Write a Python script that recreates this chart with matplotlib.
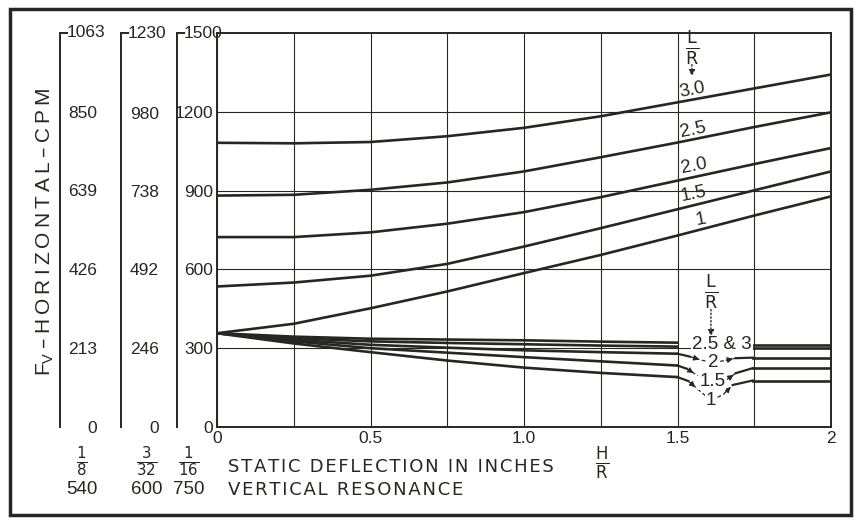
import matplotlib.pyplot as plt
from matplotlib.patches import Rectangle

plt.rcParams['font.family'] = ['Liberation Sans', 'DejaVu Sans']

# ==========================================
# 1. DATOS
# ==========================================
# Rama superior: F_V frente a H/R para cada L/R
hr = [0, 0.25, 0.5, 0.75, 1.0, 1.25, 1.5, 1.75, 2.0]
sup_30 = [1082, 1080, 1085, 1107, 1139, 1183, 1236, 1289, 1342]
sup_25 = [881, 884, 903, 931, 973, 1027, 1083, 1142, 1198]
sup_20 = [723, 723, 741, 774, 818, 875, 938, 1001, 1062]
sup_15 = [535, 550, 576, 621, 687, 757, 829, 901, 973]
sup_10 = [357, 393, 452, 516, 586, 655, 729, 805, 878]
sup_etiq = ['3.0', '2.5', '2.0', '1.5', '1']

# Rama inferior (antes y despues de la resonancia)
hr_inf = [0, 0.25, 0.5, 0.75, 1.0, 1.25, 1.5]
inf_30 = [357, 344, 336, 333, 330, 325, 321]
inf_25 = [357, 338, 326, 320, 315, 310, 306]
inf_20 = [357, 332, 313, 302, 292, 285, 279]
inf_15 = [357, 326, 300, 283, 266, 250, 234]
inf_10 = [357, 318, 285, 253, 226, 206, 190]

hr_der = [1.745, 2.0]
der_30 = [314, 314]
der_25 = [300, 300]
der_20 = [264, 264]
der_15 = [224, 224]
der_10 = [177, 177]

# Caidas de resonancia (tramos discontinuos)
caida_20_x = [1.50, 1.54, 1.58, 1.616, 1.65, 1.69, 1.745]
caida_20_y = [279, 268, 254, 246, 252, 262, 264]
caida_15_x = [1.50, 1.53, 1.56, 1.614, 1.66, 1.69, 1.745]
caida_15_y = [234, 222, 200, 172, 180, 205, 224]
caida_10_x = [1.50, 1.535, 1.565, 1.61, 1.65, 1.68, 1.745]
caida_10_y = [190, 175, 145, 100, 125, 160, 177]

# Escalas auxiliares a la izquierda
esc_top = [1063, 1230, 1500]
esc_ticks = [[0, 213, 426, 639, 850],
             [0, 246, 492, 738, 980],
             [0, 300, 600, 900, 1200]]
frac_def = ['1', '3', '1']
den_def = ['8', '32', '16']
res_vert = ['540', '600', '750']

# ==========================================
# 2. FIGURA
# ==========================================
W, H = 855, 523
L, R, T, B = 217, 831, 33, 427
tinta = '#262622'

fig = plt.figure(figsize=(W / 100, H / 100), dpi=100)
fig.patch.set_facecolor('white')

ax = fig.add_axes([L / W, 1 - B / H, (R - L) / W, (B - T) / H])
ax.set_xlim(0, 2)
ax.set_ylim(0, 1500)
ax.set_xticks([0, 0.5, 1.0, 1.5, 2])
ax.set_xticklabels(['0', '0.5', '1.0', '1.5', '2'])
ax.set_xticks([0.25, 0.75, 1.25, 1.75], minor=True)
ax.set_yticks([300, 600, 900, 1200])
ax.set_yticklabels([])
ax.tick_params(axis='both', which='both', length=0)
ax.tick_params(axis='x', labelsize=12.5, pad=3, colors=tinta)
ax.grid(True, which='both', color=tinta, lw=0.8)
for s in ax.spines.values():
    s.set_color(tinta)
    s.set_linewidth(1.4)

# curvas superiores
for ys in [sup_30, sup_25, sup_20, sup_15, sup_10]:
    ax.plot(hr, ys, color=tinta, lw=1.9, solid_capstyle='butt')

# curvas inferiores
for yi, yd in zip([inf_30, inf_25, inf_20, inf_15, inf_10],
                  [der_30, der_25, der_20, der_15, der_10]):
    ax.plot(hr_inf, yi, color=tinta, lw=1.9)
    ax.plot(hr_der, yd, color=tinta, lw=1.9)

# caidas de resonancia
for cx, cy in [(caida_20_x, caida_20_y), (caida_15_x, caida_15_y),
               (caida_10_x, caida_10_y)]:
    ax.plot(cx[:2], cy[:2], color=tinta, lw=1.6)
    ax.plot(cx[-2:], cy[-2:], color=tinta, lw=1.6)
    ax.plot(cx[1:-1], cy[1:-1], color=tinta, lw=0.9, ls=(0, (3, 2)))
    ax.annotate('', xy=(cx[2], cy[2]), xytext=(cx[1], cy[1]),
                arrowprops=dict(arrowstyle='-|>', color=tinta, lw=0.9,
                                mutation_scale=8))
    ax.annotate('', xy=(cx[-2], cy[-2]), xytext=(cx[-3], cy[-3]),
                arrowprops=dict(arrowstyle='-|>', color=tinta, lw=0.9,
                                mutation_scale=8))

# etiquetas de las curvas superiores
etiq_pos = [(1.547, 1281), (1.55, 1132), (1.553, 995), (1.553, 888), (1.575, 789)]
for t, (x, y) in zip(sup_etiq, etiq_pos):
    ax.text(x, y, t, fontsize=13.5, color=tinta, ha='center', va='center',
            rotation=11)

ax.text(1.547, 1442, r'$\frac{\mathsf{L}}{\mathsf{R}}$', fontsize=18,
        color=tinta, ha='center', va='center')
ax.annotate('', xy=(1.547, 1325), xytext=(1.547, 1390),
            arrowprops=dict(arrowstyle='-|>', color=tinta, lw=1, ls=':',
                            mutation_scale=9))

# etiquetas de las curvas inferiores
ax.text(1.609, 512, r'$\frac{\mathsf{L}}{\mathsf{R}}$', fontsize=18,
        color=tinta, ha='center', va='center')
ax.annotate('', xy=(1.609, 335), xytext=(1.609, 458),
            arrowprops=dict(arrowstyle='-|>', color=tinta, lw=1, ls=':',
                            mutation_scale=9))
caja = dict(boxstyle='square,pad=0.05', fc='white', ec='none')
ax.text(1.645, 313, '2.5 & 3', fontsize=13.5, color=tinta, ha='center',
        va='center', bbox=caja)
ax.text(1.616, 246, '2', fontsize=13.5, color=tinta, ha='center', va='center',
        bbox=caja)
ax.text(1.614, 175, '1.5', fontsize=13.5, color=tinta, ha='center', va='center',
        bbox=caja)
ax.text(1.61, 102, '1', fontsize=13.5, color=tinta, ha='center', va='center',
        bbox=caja)

# ==========================================
# 3. ESCALAS DE LA IZQUIERDA
# ==========================================
esc_x = [60, 121, 177]
esc_r = [97, 159, 213]
for x0, x1, top, ticks in zip(esc_x, esc_r, esc_top, esc_ticks):
    a = fig.add_axes([x0 / W, 1 - B / H, (x1 - x0) / W, (B - T) / H])
    a.set_ylim(0, top)
    a.set_xticks([])
    a.patch.set_alpha(0)
    for k in ['top', 'right', 'bottom']:
        a.spines[k].set_visible(False)
    a.spines['left'].set_color(tinta)
    a.spines['left'].set_linewidth(1.4)
    a.set_yticks(ticks)
    a.set_yticklabels([str(v) for v in ticks])
    a.set_yticks([0, top], minor=True)
    a.tick_params(axis='y', which='major', length=0, left=False, right=False,
                  labelleft=False, labelright=True, pad=0, labelsize=12.5,
                  colors=tinta)
    a.tick_params(axis='y', which='minor', direction='in', length=6, width=1.4,
                  left=True, colors=tinta)
    for lab in a.get_yticklabels():
        lab.set_ha('right')
    a.text(7 / (x1 - x0), top, str(top), transform=a.get_yaxis_transform(),
           fontsize=12.5, color=tinta, ha='left', va='center')

# titulo del eje vertical (letras espaciadas)
espacio = '\u2009'
titulo = r'F$_\mathregular{V}$' + espacio + espacio.join('–HORIZONTAL–CPM')
fig.text(45 / W, 1 - 232 / H, titulo, rotation=90, fontsize=15,
         color=tinta, ha='center', va='center')

# filas inferiores
for xc, n, d, rv in zip([82, 147, 189], frac_def, den_def, res_vert):
    fig.text(xc / W, 1 - 462 / H, r'$\frac{\mathsf{%s}}{\mathsf{%s}}$' % (n, d),
             fontsize=15.5, color=tinta, ha='center', va='center')
    fig.text(xc / W, 1 - 490 / H, rv, fontsize=13.5, color=tinta,
             ha='center', va='center')
hair = '\u200a'
fig.text(228 / W, 1 - 467 / H, hair.join('STATIC DEFLECTION IN INCHES'),
         fontsize=13, color=tinta, ha='left', va='center', family='DejaVu Sans')
fig.text(602 / W, 1 - 463 / H, r'$\frac{\mathsf{H}}{\mathsf{R}}$', fontsize=17,
         color=tinta, ha='center', va='center')
fig.text(228 / W, 1 - 490 / H, hair.join('VERTICAL RESONANCE'),
         fontsize=13, color=tinta, ha='left', va='center', family='DejaVu Sans')

# marco exterior
fig.add_artist(Rectangle((10 / W, 8 / H), 841 / W, 506 / H,
                         transform=fig.transFigure, fill=False,
                         ec=tinta, lw=2.5))

fig.savefig('out.png', dpi=100, facecolor='white')
